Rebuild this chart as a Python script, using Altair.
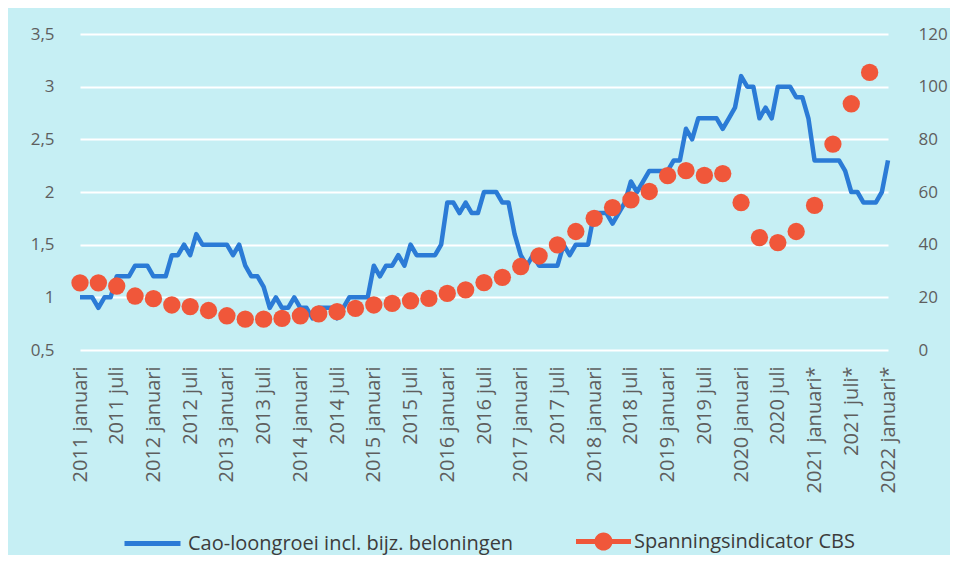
import json
import altair as alt
import pandas as pd

# ---- data ----
x_labels = []
for y in range(2011, 2021):
    x_labels += [f"{y} januari", f"{y} juli"]
x_labels += ["2021 januari*", "2021 juli*", "2022 januari*"]

# monthly cao-loongroei (%), Jan 2011 .. Jan 2022
cao = [
    1.0, 1.0, 1.0, 0.9, 1.0, 1.0, 1.2, 1.2, 1.2, 1.3, 1.3, 1.3,   # 2011
    1.2, 1.2, 1.2, 1.4, 1.4, 1.5, 1.4, 1.6, 1.5, 1.5, 1.5, 1.5,   # 2012
    1.5, 1.4, 1.5, 1.3, 1.2, 1.2, 1.1, 0.9, 1.0, 0.9, 0.9, 1.0,   # 2013
    0.9, 0.9, 0.8, 0.9, 0.9, 0.9, 0.8, 0.9, 1.0, 1.0, 1.0, 1.0,   # 2014
    1.3, 1.2, 1.3, 1.3, 1.4, 1.3, 1.5, 1.4, 1.4, 1.4, 1.4, 1.5,   # 2015
    1.9, 1.9, 1.8, 1.9, 1.8, 1.8, 2.0, 2.0, 2.0, 1.9, 1.9, 1.6,   # 2016
    1.4, 1.3, 1.4, 1.3, 1.3, 1.3, 1.3, 1.5, 1.4, 1.5, 1.5, 1.5,   # 2017
    1.8, 1.8, 1.8, 1.7, 1.8, 1.9, 2.1, 2.0, 2.1, 2.2, 2.2, 2.2,   # 2018
    2.2, 2.3, 2.3, 2.6, 2.5, 2.7, 2.7, 2.7, 2.7, 2.6, 2.7, 2.8,   # 2019
    3.1, 3.0, 3.0, 2.7, 2.8, 2.7, 3.0, 3.0, 3.0, 2.9, 2.9, 2.7,   # 2020
    2.3, 2.3, 2.3, 2.3, 2.3, 2.2, 2.0, 2.0, 1.9, 1.9, 1.9, 2.0,   # 2021
    2.3,                                                          # 2022 jan
]

# quarterly spanningsindicator CBS, Q1 2011 .. Q4 2021
spi = [
    25.5, 25.5, 24.3, 20.5,
    19.5, 17.1, 16.5, 15.0,
    13.0, 11.7, 11.7, 12.0,
    13.0, 13.7, 14.6, 15.8,
    17.1, 17.7, 18.7, 19.6,
    21.5, 22.8, 25.6, 27.6,
    31.7, 35.7, 39.9, 45.0,
    50.0, 54.1, 57.0, 60.2,
    66.2, 68.1, 66.3, 67.0,
    56.0, 42.7, 40.8, 45.0,
    54.9, 78.2, 93.5, 105.4,
]

series_line = "Cao-loongroei incl. bijz. beloningen"
series_dot = "Spanningsindicator CBS"

line_df = pd.DataFrame({"m": list(range(len(cao))), "v": cao, "s": series_line})
dot_df = pd.DataFrame({"m": list(range(0, 3 * len(spi), 3)), "v": spi, "s": series_dot})

# ---- styling ----
BG = "#c6eff4"
BLUE = "#2b7bd6"
ORANGE = "#f0573a"
FONT = "Open Sans"
AXIS_GREY = "#5e5e5e"
LEG_GREY = "#3c3c3c"

n_months = len(cao) - 1
x_enc = alt.X(
    "m:Q",
    scale=alt.Scale(domain=[0, n_months], nice=False, zero=False),
    axis=alt.Axis(
        values=list(range(0, n_months + 1, 6)),
        labelExpr=f"{json.dumps(x_labels)}[round(datum.value/6)]",
        labelAngle=270,
        labelPadding=16,
        labelFontSize=20,
        labelFont=FONT,
        labelColor=AXIS_GREY,
        labelOverlap=False,
        labelLimit=0,
        grid=False,
        ticks=False,
        domain=False,
        title=None,
    ),
)

line = (
    alt.Chart(line_df)
    .mark_line(strokeWidth=4.5, strokeJoin="round")
    .encode(
        x=x_enc,
        y=alt.Y(
            "v:Q",
            scale=alt.Scale(domain=[0.5, 3.5], nice=False, zero=False),
            axis=alt.Axis(
                values=[0.5, 1, 1.5, 2, 2.5, 3, 3.5],
                labelExpr="replace(format(datum.value, '~g'), '.', ',')",
                grid=True,
                gridColor="white",
                gridWidth=2,
                ticks=False,
                domain=False,
                labelPadding=26,
                labelFontSize=17,
                labelFont=FONT,
                labelColor=AXIS_GREY,
                title=None,
            ),
        ),
        stroke=alt.Stroke(
            "s:N",
            scale=alt.Scale(domain=[series_line], range=[BLUE]),
            legend=alt.Legend(
                title=None,
                orient="none",
                legendX=42,
                legendY=479,
                symbolType="stroke",
                symbolSize=3136,
                symbolStrokeWidth=5,
                labelFontSize=20,
                labelFont=FONT,
                labelColor=LEG_GREY,
                labelOffset=5,
                labelLimit=0,
                padding=0,
            ),
        ),
    )
)

dot_path = (
    "M-1,-0.09H1V0.09H-1Z"
    "M-0.33,0A0.33,0.33 0 1,1 0.33,0A0.33,0.33 0 1,1 -0.33,0Z"
)

dots = (
    alt.Chart(dot_df)
    .mark_circle(size=300, opacity=1)
    .encode(
        x=x_enc,
        y=alt.Y(
            "v:Q",
            scale=alt.Scale(domain=[0, 120], nice=False, zero=False),
            axis=alt.Axis(
                orient="right",
                values=[0, 20, 40, 60, 80, 100, 120],
                grid=False,
                ticks=False,
                domain=False,
                labelPadding=30,
                labelFontSize=17,
                labelFont=FONT,
                labelColor=AXIS_GREY,
                title=None,
            ),
        ),
        fill=alt.Fill(
            "s:N",
            scale=alt.Scale(domain=[series_dot], range=[ORANGE]),
            legend=alt.Legend(
                title=None,
                orient="none",
                legendX=495,
                legendY=479,
                symbolType=dot_path,
                symbolSize=3025,
                symbolOpacity=1,
                labelFontSize=20,
                labelFont=FONT,
                labelColor=LEG_GREY,
                labelOffset=2,
                labelLimit=0,
                padding=0,
            ),
        ),
    )
)

chart = (
    alt.layer(line, dots)
    .resolve_scale(y="independent", stroke="independent", fill="independent")
    .properties(
        width=808,
        height=316,
        autosize=alt.AutoSizeParams(type="none"),
        padding={"left": 72, "top": 26, "right": 62, "bottom": 205},
        background=BG,
    )
    .configure_view(strokeWidth=0, fill=BG)
)

chart.save("out.html", embed_options={"renderer": "svg", "actions": False})
